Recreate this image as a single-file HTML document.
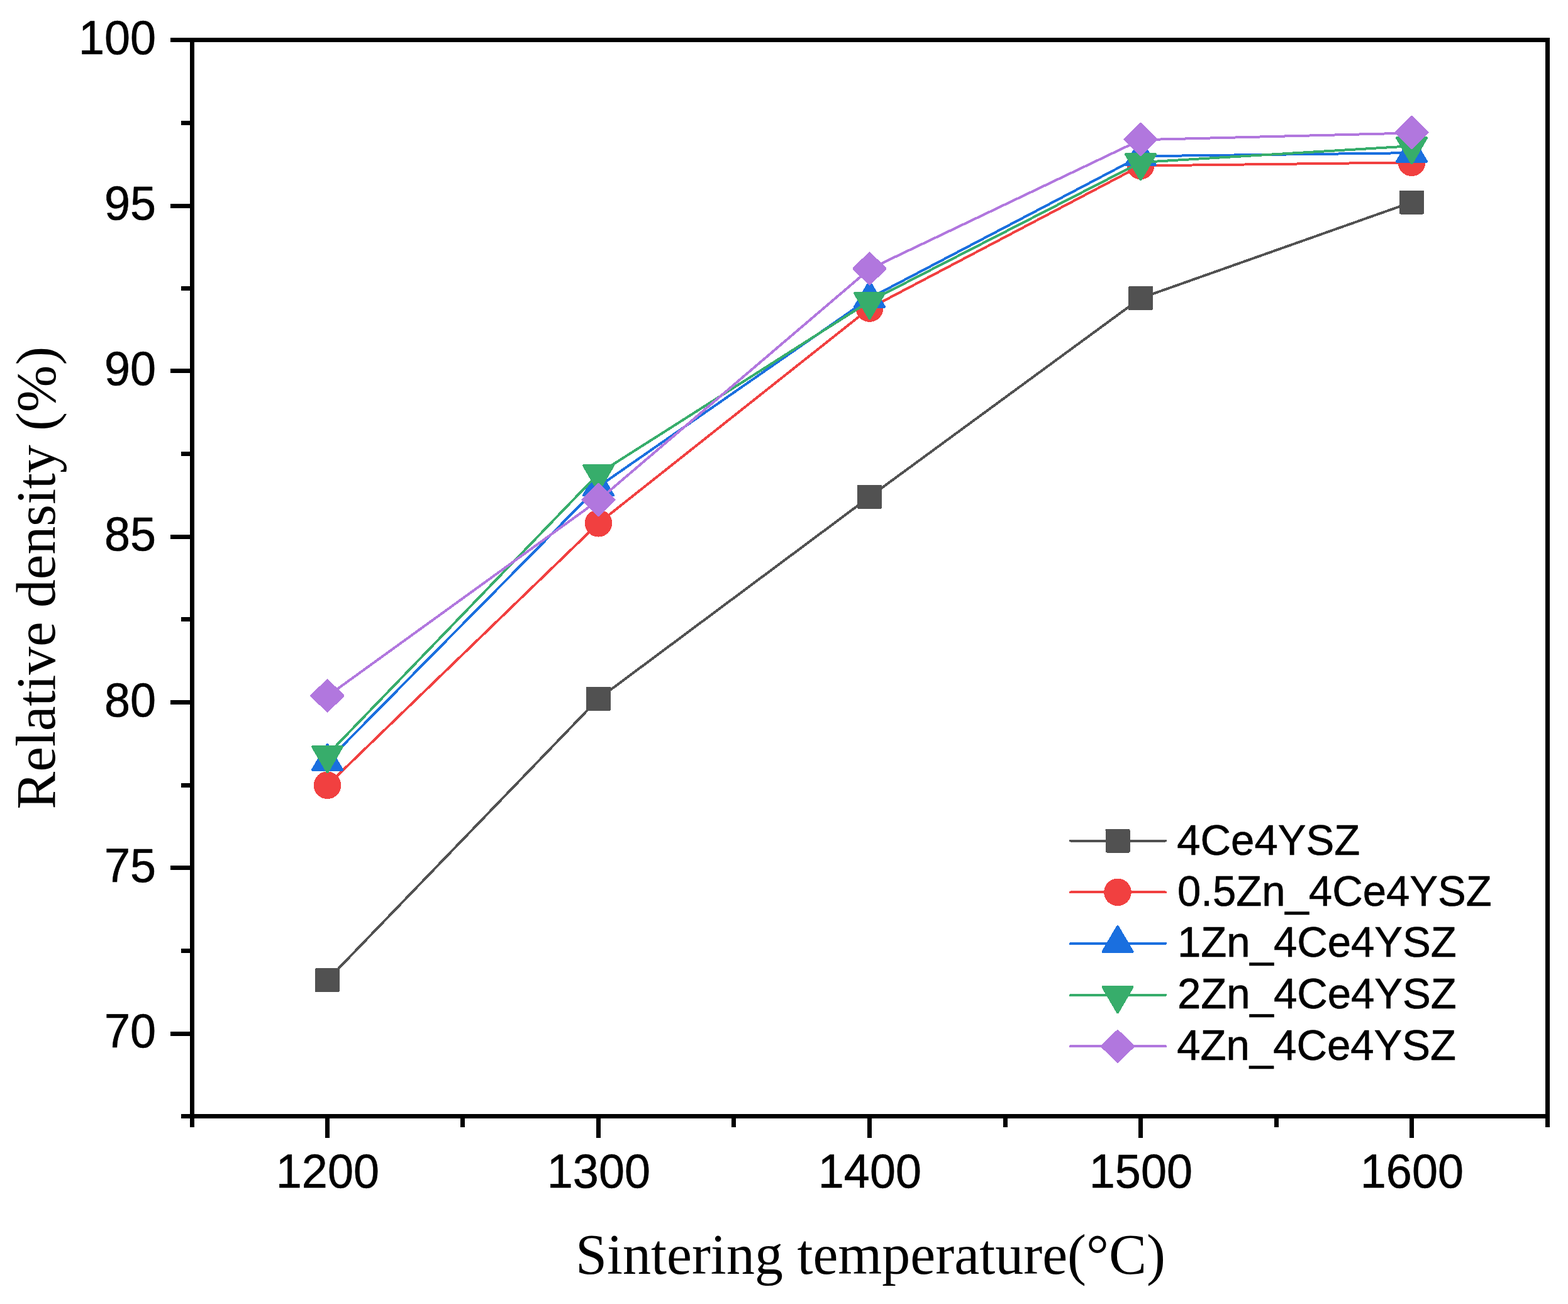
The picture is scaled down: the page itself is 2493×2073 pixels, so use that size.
<!DOCTYPE html>
<html lang="en"><head><meta charset="utf-8"><title>Relative density vs sintering temperature</title>
<style>
html,body{margin:0;padding:0;background:#fff;}
body{width:2493px;height:2073px;overflow:hidden;}
svg{display:block;}
.tick{font-family:"Liberation Sans",Arial,sans-serif;font-size:73.8px;fill:#000;stroke:#000;stroke-width:0.6px;stroke-linejoin:round;}
.leg{font-family:"Liberation Sans",Arial,sans-serif;font-size:66.67px;fill:#000;stroke:#000;stroke-width:0.6px;stroke-linejoin:round;}
.title{font-family:"Liberation Serif","Times New Roman",serif;fill:#000;}
</style></head><body>
<svg width="2493" height="2073" viewBox="0 0 2493 2073" role="img" aria-label="Relative density versus sintering temperature">
<rect x="0" y="0" width="2493" height="2073" fill="#ffffff"/>
<g id="series" shape-rendering="crispEdges">
<polyline points="520.5,1558.0 951.5,1110.9 1382.5,789.9 1813.5,474.0 2244.5,321.5" fill="none" stroke="#515151" stroke-width="4" stroke-linejoin="round" stroke-linecap="round"/>
<rect x="503.0" y="1541.0" width="35" height="34" fill="#515151" stroke="#515151" stroke-width="4" stroke-linejoin="round"/>
<rect x="934.0" y="1093.9" width="35" height="34" fill="#515151" stroke="#515151" stroke-width="4" stroke-linejoin="round"/>
<rect x="1365.0" y="772.9" width="35" height="34" fill="#515151" stroke="#515151" stroke-width="4" stroke-linejoin="round"/>
<rect x="1796.0" y="457.0" width="35" height="34" fill="#515151" stroke="#515151" stroke-width="4" stroke-linejoin="round"/>
<rect x="2227.0" y="304.5" width="35" height="34" fill="#515151" stroke="#515151" stroke-width="4" stroke-linejoin="round"/>
<polyline points="520.5,1248.3 951.5,831.8 1382.5,490.1 1813.5,263.5 2244.5,258.3" fill="none" stroke="#f14040" stroke-width="4" stroke-linejoin="round" stroke-linecap="round"/>
<circle cx="520.5" cy="1248.3" r="21.8" fill="#f14040"/>
<circle cx="951.5" cy="831.8" r="21.8" fill="#f14040"/>
<circle cx="1382.5" cy="490.1" r="21.8" fill="#f14040"/>
<circle cx="1813.5" cy="263.5" r="21.8" fill="#f14040"/>
<circle cx="2244.5" cy="258.3" r="21.8" fill="#f14040"/>
<polyline points="520.5,1210.1 951.5,773.6 1382.5,474.1 1813.5,248.3 2244.5,243.1" fill="none" stroke="#1a6fdf" stroke-width="4" stroke-linejoin="round" stroke-linecap="round"/>
<polygon points="520.5,1183.9 544.0,1223.8 497.0,1223.8" fill="#1a6fdf" stroke="#1a6fdf" stroke-width="4" stroke-linejoin="round"/>
<polygon points="951.5,747.4 975.0,787.3 928.0,787.3" fill="#1a6fdf" stroke="#1a6fdf" stroke-width="4" stroke-linejoin="round"/>
<polygon points="1382.5,447.9 1406.0,487.8 1359.0,487.8" fill="#1a6fdf" stroke="#1a6fdf" stroke-width="4" stroke-linejoin="round"/>
<polygon points="1813.5,222.1 1837.0,262.0 1790.0,262.0" fill="#1a6fdf" stroke="#1a6fdf" stroke-width="4" stroke-linejoin="round"/>
<polygon points="2244.5,216.9 2268.0,256.8 2221.0,256.8" fill="#1a6fdf" stroke="#1a6fdf" stroke-width="4" stroke-linejoin="round"/>
<polyline points="520.5,1199.9 951.5,753.0 1382.5,479.0 1813.5,258.1 2244.5,232.1" fill="none" stroke="#37ad6b" stroke-width="4" stroke-linejoin="round" stroke-linecap="round"/>
<polygon points="520.5,1227.2 544.0,1187.0 497.0,1187.0" fill="#37ad6b" stroke="#37ad6b" stroke-width="4" stroke-linejoin="round"/>
<polygon points="951.5,780.3 975.0,740.1 928.0,740.1" fill="#37ad6b" stroke="#37ad6b" stroke-width="4" stroke-linejoin="round"/>
<polygon points="1382.5,506.3 1406.0,466.1 1359.0,466.1" fill="#37ad6b" stroke="#37ad6b" stroke-width="4" stroke-linejoin="round"/>
<polygon points="1813.5,285.4 1837.0,245.2 1790.0,245.2" fill="#37ad6b" stroke="#37ad6b" stroke-width="4" stroke-linejoin="round"/>
<polygon points="2244.5,259.4 2268.0,219.2 2221.0,219.2" fill="#37ad6b" stroke="#37ad6b" stroke-width="4" stroke-linejoin="round"/>
<polyline points="520.5,1106.8 951.5,795.2 1382.5,427.8 1813.5,222.3 2244.5,211.4" fill="none" stroke="#b177de" stroke-width="4" stroke-linejoin="round" stroke-linecap="round"/>
<polygon points="520.5,1081.6 545.5,1106.0 520.5,1130.4 495.5,1106.0" fill="#b177de" stroke="#b177de" stroke-width="4" stroke-linejoin="round"/>
<polygon points="951.5,770.0 976.5,794.4 951.5,818.8 926.5,794.4" fill="#b177de" stroke="#b177de" stroke-width="4" stroke-linejoin="round"/>
<polygon points="1382.5,402.6 1407.5,427.0 1382.5,451.4 1357.5,427.0" fill="#b177de" stroke="#b177de" stroke-width="4" stroke-linejoin="round"/>
<polygon points="1813.5,197.1 1838.5,221.5 1813.5,245.9 1788.5,221.5" fill="#b177de" stroke="#b177de" stroke-width="4" stroke-linejoin="round"/>
<polygon points="2244.5,186.2 2269.5,210.6 2244.5,235.0 2219.5,210.6" fill="#b177de" stroke="#b177de" stroke-width="4" stroke-linejoin="round"/>
</g>
<g id="axes" fill="#000" shape-rendering="crispEdges">
<rect x="302" y="60" width="7" height="1732"/>
<rect x="2457" y="60" width="7" height="1732"/>
<rect x="271" y="60" width="2193" height="7"/>
<rect x="288" y="1771" width="2176" height="7"/>
<rect x="271" y="324" width="32" height="7"/>
<rect x="271" y="586" width="32" height="7"/>
<rect x="271" y="850" width="32" height="7"/>
<rect x="271" y="1113" width="32" height="7"/>
<rect x="271" y="1376" width="32" height="7"/>
<rect x="271" y="1640" width="32" height="7"/>
<rect x="288" y="192" width="15" height="7"/>
<rect x="288" y="455" width="15" height="7"/>
<rect x="288" y="718" width="15" height="7"/>
<rect x="288" y="981" width="15" height="7"/>
<rect x="288" y="1245" width="15" height="7"/>
<rect x="288" y="1508" width="15" height="7"/>
<rect x="517" y="1777" width="7" height="32"/>
<rect x="948" y="1777" width="7" height="32"/>
<rect x="1379" y="1777" width="7" height="32"/>
<rect x="1810" y="1777" width="7" height="32"/>
<rect x="2241" y="1777" width="7" height="32"/>
<rect x="732" y="1777" width="7" height="15"/>
<rect x="1163" y="1777" width="7" height="15"/>
<rect x="1595" y="1777" width="7" height="15"/>
<rect x="2026" y="1777" width="7" height="15"/>
</g>
<g class="tick" text-anchor="end">
<text transform="translate(248.1 85.6) scale(1 1.0366)">100</text>
<text transform="translate(248.1 348.8) scale(1 1.0366)">95</text>
<text transform="translate(248.1 612.1) scale(1 1.0366)">90</text>
<text transform="translate(248.1 875.3) scale(1 1.0366)">85</text>
<text transform="translate(248.1 1138.5) scale(1 1.0366)">80</text>
<text transform="translate(248.1 1401.8) scale(1 1.0366)">75</text>
<text transform="translate(248.1 1665.0) scale(1 1.0366)">70</text>
</g>
<g class="tick" text-anchor="middle">
<text transform="translate(520.9 1887.9) scale(1 1.0366)">1200</text>
<text transform="translate(951.9 1887.9) scale(1 1.0366)">1300</text>
<text transform="translate(1382.9 1887.9) scale(1 1.0366)">1400</text>
<text transform="translate(1813.9 1887.9) scale(1 1.0366)">1500</text>
<text transform="translate(2244.9 1887.9) scale(1 1.0366)">1600</text>
</g>
<text class="title" font-size="90" text-anchor="middle" x="1384.0" y="2025.0">Sintering temperature(°C)</text>
<text class="title" font-size="89.5" text-anchor="middle" transform="translate(87.0 918.65) rotate(-90)">Relative density (%)</text>
<g id="legend" shape-rendering="crispEdges">
<line x1="1702" y1="1336.5" x2="1853" y2="1336.5" stroke="#515151" stroke-width="4" stroke-linecap="round"/>
<rect x="1759.5" y="1319.5" width="35" height="34" fill="#515151" stroke="#515151" stroke-width="4" stroke-linejoin="round"/>
<text class="leg" transform="translate(1871.3 1358.7) scale(1.0065 1.015)">4Ce4YSZ</text>
<line x1="1702" y1="1418.4" x2="1853" y2="1418.4" stroke="#f14040" stroke-width="4" stroke-linecap="round"/>
<circle cx="1777.0" cy="1418.4" r="21.8" fill="#f14040"/>
<text class="leg" transform="translate(1872.0 1440.3) scale(1.0065 1.015)">0.5Zn_4Ce4YSZ</text>
<line x1="1702" y1="1500.0" x2="1853" y2="1500.0" stroke="#1a6fdf" stroke-width="4" stroke-linecap="round"/>
<polygon points="1777.0,1473.0 1800.5,1512.9 1753.5,1512.9" fill="#1a6fdf" stroke="#1a6fdf" stroke-width="4" stroke-linejoin="round"/>
<text class="leg" transform="translate(1872.0 1521.3) scale(1.0065 1.015)">1Zn_4Ce4YSZ</text>
<line x1="1702" y1="1582.0" x2="1853" y2="1582.0" stroke="#37ad6b" stroke-width="4" stroke-linecap="round"/>
<polygon points="1777.0,1609.3 1800.5,1569.1 1753.5,1569.1" fill="#37ad6b" stroke="#37ad6b" stroke-width="4" stroke-linejoin="round"/>
<text class="leg" transform="translate(1872.0 1603.4) scale(1.0065 1.015)">2Zn_4Ce4YSZ</text>
<line x1="1702" y1="1663.3" x2="1853" y2="1663.3" stroke="#b177de" stroke-width="4" stroke-linecap="round"/>
<polygon points="1777.0,1638.9 1802.0,1663.3 1777.0,1687.7 1752.0,1663.3" fill="#b177de" stroke="#b177de" stroke-width="4" stroke-linejoin="round"/>
<text class="leg" transform="translate(1871.3 1685.4) scale(1.0065 1.015)">4Zn_4Ce4YSZ</text>
</g>
</svg>
</body></html>
